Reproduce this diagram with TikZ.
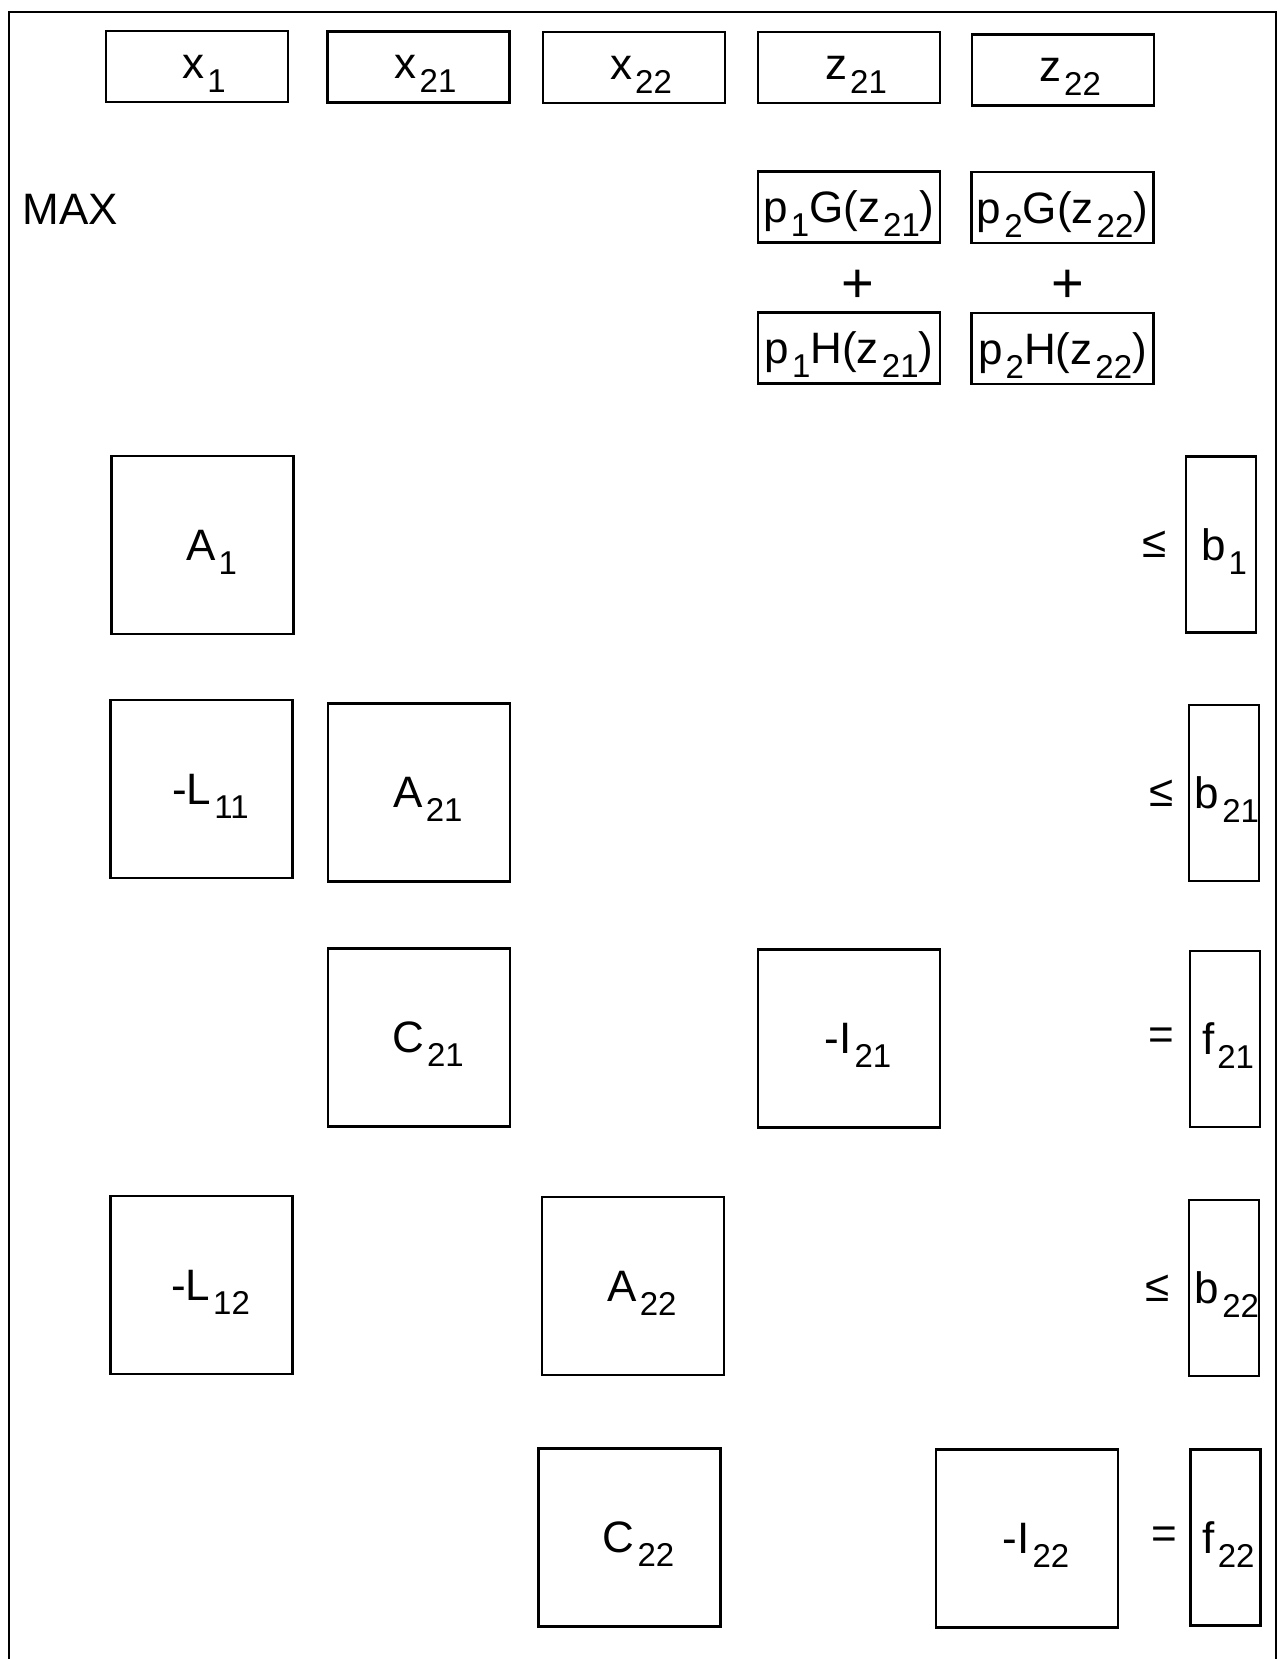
\documentclass[tikz,border=0pt]{standalone}
\usepackage{fontspec}
\setmainfont{Liberation Sans}
\usetikzlibrary{positioning}
\newcommand{\lo}[1]{\kern1.5pt\raisebox{-7pt}{\fontsize{16.5}{16.5}\selectfont #1}}
\tikzset{
  blk/.style={draw, line width=1.1pt, inner sep=0pt, text depth=0pt},
  vbox/.style={blk, minimum width=91pt, minimum height=35.5pt},
  xvar/.style={vbox, execute at begin node=\hspace{7pt}},
  mat/.style={blk, minimum width=91pt, minimum height=89pt, execute at begin node=\hspace{9pt}},
  rhs/.style={blk, minimum width=35pt, minimum height=88pt, execute at begin node=\hspace{3pt}},
  rel/.style={inner sep=0pt}
}

\begin{document}
\begin{tikzpicture}[x=0.5pt, y=-0.5pt, node distance=7pt, font=\fontsize{22}{26}\selectfont]
\useasboundingbox (0,0) rectangle (1281,1659);
\draw[line width=0.9pt] (9,1659) -- (9,12) -- (1276,12) -- (1276,1659);

\node[xvar] (x1) at (197,66.5) {x\lo{1}};
\node[xvar] (x21) at (418.5,67) {x\lo{21}};
\node[xvar] (x22) at (634,67.5) {x\lo{22}};
\node[xvar] (z21) at (849,67.5) {z\lo{21}};
\node[xvar] (z22) at (1063,70) {z\lo{22}};

\node[rel, anchor=west] (max) at (22,209) {MAX};
\node[vbox] (g1) at (849,207) {p\lo{1}G(z\lo{21})};
\node[vbox] (g2) at (1062.5,207.5) {p\lo{2}G(z\lo{22})};
\node[rel, font=\fontsize{28}{30}\selectfont] (plus1) at (858,286) {+};
\node[rel, font=\fontsize{28}{30}\selectfont] (plus2) at (1068,286) {+};
\node[vbox] (h1) at (849,348) {p\lo{1}H(z\lo{21})};
\node[vbox] (h2) at (1062.5,348.5) {p\lo{2}H(z\lo{22})};

\node[mat] (A1) at (202.5,545) {A\lo{1}};
\node[rhs] (b1) at (1221,544.5) {b\lo{1}};
\node[rel, left=9pt of b1] (le1) {≤};

\node[mat] (L11) at (201.5,789) {-L\lo{11}};
\node[mat] (A21) at (419,792.5) {A\lo{21}};
\node[rhs] (b21) at (1224,793) {b\lo{21}};
\node[rel, left=of b21] (le21) {≤};

\node[mat] (C21) at (419,1037.5) {C\lo{21}};
\node[mat] (I21) at (849,1038.5) {-I\lo{21}};
\node[rhs] (f21) at (1225,1039) {f\lo{21}};
\node[rel, left=of f21] (eq21) {=};

\node[mat] (L12) at (201.5,1285) {-L\lo{12}};
\node[mat] (A22) at (633,1286) {A\lo{22}};
\node[rhs] (b22) at (1224,1288) {b\lo{22}};
\node[rel, left=9pt of b22] (le22) {≤};

\node[mat] (C22) at (629.5,1537.5) {C\lo{22}};
\node[mat] (I22) at (1027,1538.5) {-I\lo{22}};
\node[rhs] (f22) at (1225.5,1537.5) {f\lo{22}};
\node[rel, left=6pt of f22] (eq22) {=};
\end{tikzpicture}
\end{document}
